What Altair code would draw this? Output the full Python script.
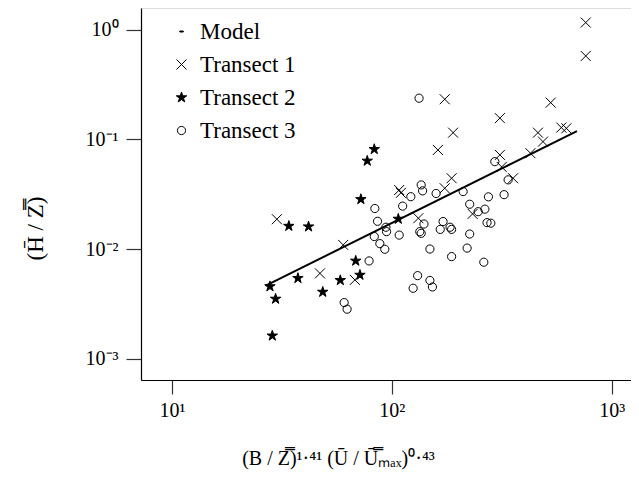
import altair as alt
import pandas as pd

# ---- data (log-log) ----
series_names = ["Model", "Transect 1", "Transect 2", "Transect 3"]

model_x = [26.7, 695]
model_y = [0.00464, 0.119]

t1_x = [762, 762, 174, 528, 310, 190, 162, 462, 487, 590,
        622, 427, 310, 316, 356, 187, 174, 108, 110, 132,
        233, 60.1, 47.1, 67.9, 30.0]
t1_y = [1.16, 0.575, 0.232, 0.216, 0.156, 0.115, 0.080, 0.115, 0.0953, 0.128,
        0.126, 0.0747, 0.0721, 0.056, 0.0442, 0.0442, 0.0358, 0.0345, 0.0325, 0.0191,
        0.0209, 0.0109, 0.0060, 0.00523, 0.0187]

t2_x = [83.2, 77.3, 72.3, 34.0, 41.8, 68.5, 71.6, 37.4, 58.3, 48.5, 27.9, 29.6, 28.6, 107]
t2_y = [0.0812, 0.0636, 0.0284, 0.0162, 0.0160, 0.0078, 0.0058, 0.00542, 0.00519,
        0.00406, 0.00456, 0.00351, 0.00162, 0.0188]

t3_x = [133, 294, 338, 136, 138, 122, 159, 211, 275, 324,
        83.7, 112, 226, 247, 265, 86.1, 94.0, 94.6, 83.2, 108,
        88.2, 92.9, 78.8, 140, 171, 134, 136, 166, 184, 187,
        226, 271, 282, 149, 220, 187, 262, 131, 149, 125,
        153, 60.7, 62.6]
t3_y = [0.237, 0.0626, 0.0427, 0.0384, 0.0339, 0.0300, 0.0321, 0.0334, 0.0299, 0.0313,
        0.0234, 0.0246, 0.0256, 0.0219, 0.0231, 0.0179, 0.0158, 0.0144, 0.0130, 0.0134,
        0.0112, 0.00995, 0.00779, 0.0169, 0.0178, 0.0144, 0.0139, 0.0151, 0.0158, 0.0151,
        0.0137, 0.0174, 0.0172, 0.0100, 0.0102, 0.00853, 0.00758, 0.00572, 0.00517, 0.00439,
        0.00451, 0.00325, 0.00283]

x_ticks = [10, 100, 1000]
y_ticks = [0.001, 0.01, 0.1, 1]

rows = []
for name, xs, ys in [("Transect 1", t1_x, t1_y), ("Transect 2", t2_x, t2_y), ("Transect 3", t3_x, t3_y)]:
    for a, b in zip(xs, ys):
        rows.append({"x": a, "y": b, "series": name})
pts = pd.DataFrame(rows)
model = pd.DataFrame({"x": model_x, "y": model_y})

DASH = "M-0.35,-0.1L0.35,-0.1L0.35,0.1L-0.35,0.1Z"
CROSS = "M-1,-1L1,1M-1,1L1,-1"
STAR = ("M0,-1.1L0.245,-0.338L1.046,-0.34L0.397,0.129L0.647,0.89L0,0.418"
        "L-0.647,0.89L-0.397,0.129L-1.046,-0.34L-0.245,-0.338Z")
CIRCLE = "M-0.82,0A0.82,0.82,0,1,0,0.82,0A0.82,0.82,0,1,0,-0.82,0Z"

SERIF = "Liberation Serif"

xscale = alt.Scale(type="log", domain=[7.23, 1224], nice=False)
yscale = alt.Scale(type="log", domain=[6.4e-4, 1.574], nice=False)

xaxis = alt.Axis(
    values=x_ticks,
    labelExpr="datum.value < 50 ? '10¹' : datum.value < 500 ? '10²' : '10³'",
    grid=False, domainColor="black", domainWidth=1.2,
    tickColor="#333333", tickWidth=1.2, tickSize=14,
    labelFont=SERIF, labelFontSize=20, labelColor="black", labelPadding=6,
    title="(B / Z\u033f)¹·⁴¹ (Ū / Ū\u033fₘₐₓ)⁰·⁴³",
    titleFont=SERIF, titleFontSize=20, titleFontWeight="normal",
    titleColor="black", titleX=197, titleY=78, titleAlign="center", titleBaseline="middle",
    titleAngle=0,
)
yaxis = alt.Axis(
    values=y_ticks,
    labelExpr="['10⁻³','10⁻²','10⁻¹','10⁰'][round(log(datum.value)/LN10)+3]",
    grid=False, domainColor="black", domainWidth=1.2,
    tickColor="#333333", tickWidth=1.2, tickSize=15,
    labelFont=SERIF, labelFontSize=20, labelColor="black", labelPadding=8,
    title="(H̄ / Z\u033f)",
    titleFont=SERIF, titleFontSize=23, titleFontWeight="normal",
    titleColor="black", titleX=-106, titleY=220, titleAlign="center", titleBaseline="middle",
    titleAngle=270,
)

legend = alt.Legend(
    title=None, orient="none", legendX=29, legendY=12, padding=0,
    labelFont=SERIF, labelFontSize=23, labelColor="black", labelOffset=7,
    symbolSize=100, rowPadding=9, symbolStrokeWidth=1, symbolStrokeColor="black",
)

points = alt.Chart(pts).mark_point(size=100, strokeWidth=1, opacity=1).encode(
    x=alt.X("x:Q", scale=xscale, axis=xaxis),
    y=alt.Y("y:Q", scale=yscale, axis=yaxis),
    shape=alt.Shape("series:N", scale=alt.Scale(domain=series_names, range=[DASH, CROSS, STAR, CIRCLE]), legend=legend),
    fill=alt.Fill("series:N", scale=alt.Scale(domain=series_names, range=["black", "transparent", "black", "transparent"]), legend=legend),
    stroke=alt.Stroke("series:N", scale=alt.Scale(domain=series_names, range=["black", "black", "black", "black"]), legend=legend),
)

line = alt.Chart(model).mark_line(color="black", strokeWidth=2).encode(
    x=alt.X("x:Q", scale=xscale),
    y=alt.Y("y:Q", scale=yscale),
)

chart = alt.layer(line, points).properties(
    width=490, height=372,
    autosize=alt.AutoSizeParams(type="none"),
    padding={"left": 133, "top": 0, "right": 0, "bottom": 100},
).configure_view(stroke=None).configure(background="white")

chart.save("out.html", embed_options={"renderer": "svg", "actions": False})
